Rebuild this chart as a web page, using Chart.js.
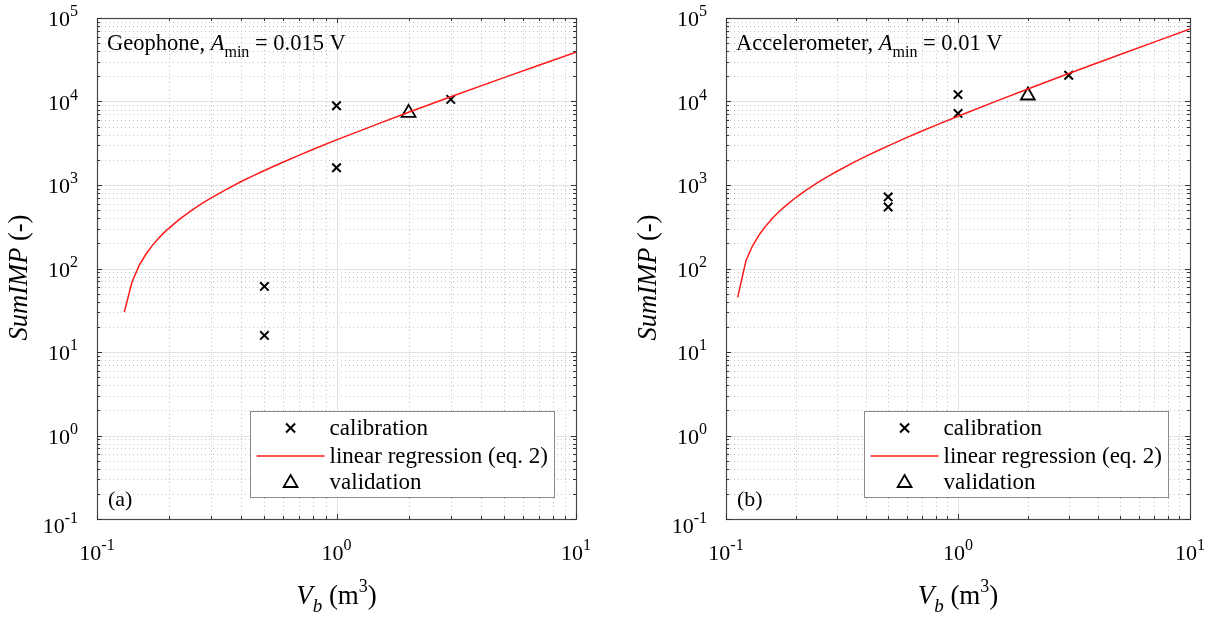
<!DOCTYPE html>
<html>
<head>
<meta charset="utf-8">
<script src="https://cdn.jsdelivr.net/npm/chart.js@4.4.0/dist/chart.umd.min.js"></script>
<style>
  body { margin: 0; background: #fff; width: 1230px; height: 619px; overflow: hidden; position: relative; }
  .panel { position: absolute; top: 0; width: 615px; height: 619px; }
</style>
</head>
<body>
<div class="panel" style="left:0"><canvas id="geoChart"></canvas></div>
<div class="panel" style="left:615px"><canvas id="accChart"></canvas></div>
<script>
// axis decades and tick exponents
const xDecades = [0.1, 1, 10];
const xTickExps = ['-1', '0', '1'];
const yDecades = [0.1, 1, 10, 100, 1000, 10000, 100000];
const yTickExps = ['-1', '0', '1', '2', '3', '4', '5'];
const minorSteps = [2, 3, 4, 5, 6, 7, 8, 9];

// (a) geophone
const geoCalX = [0.5, 0.5, 1, 1, 3];
const geoCalY = [61, 15.8, 8900, 1610, 10600];
const geoValX = [2];
const geoValY = [7300];
const geoFitX = [0.13, 0.14, 0.15, 0.16, 0.17, 0.18, 0.19, 0.2, 0.22, 0.25, 0.28, 0.3, 0.35, 0.4, 0.45, 0.5, 0.6, 0.7, 0.8, 1, 1.5, 2, 3, 5, 7, 10];
const geoFitY = [30, 69, 109, 148, 188, 227, 267, 305, 385, 505, 622, 700, 899, 1100, 1294, 1490, 1886, 2280, 2676, 3470, 5440, 7420, 11400, 19300, 27200, 39000];

// (b) accelerometer
const accCalX = [0.5, 0.5, 1, 1, 3];
const accCalY = [720, 545, 12100, 7200, 20600];
const accValX = [2];
const accValY = [11800];
const accFitX = [0.1123, 0.122, 0.13, 0.14, 0.15, 0.16, 0.17, 0.18, 0.2, 0.22, 0.25, 0.28, 0.3, 0.35, 0.4, 0.45, 0.5, 0.6, 0.7, 0.8, 1, 1.5, 2, 3, 5, 7, 10];
const accFitY = [45, 125, 186, 261, 335, 410, 484, 559, 708, 857, 1080, 1304, 1450, 1825, 2200, 2570, 2940, 3688, 4430, 5178, 6670, 10400, 14100, 21600, 36500, 51400, 73700];

const legendLabels = ['calibration', 'linear regression (eq. 2)', 'validation'];

const SERIF = '"Liberation Serif", "Times New Roman", serif';

function font(size, italic) {
    return (italic ? 'italic ' : '') + size + 'px ' + SERIF;
}

// draw a row of text pieces (for sub/superscripts), baseline at y
function drawRuns(ctx, runs, x, y, align) {
    ctx.textBaseline = 'alphabetic';
    ctx.textAlign = 'left';
    let total = 0;
    runs.forEach(r => {
        ctx.font = font(r.size, r.italic);
        r.w = ctx.measureText(r.t).width;
        total += r.w;
    });
    let cx = x;
    if (align === 'center') cx = x - total / 2;
    if (align === 'right') cx = x - total;
    runs.forEach(r => {
        ctx.font = font(r.size, r.italic);
        ctx.fillText(r.t, cx, y + (r.dy || 0));
        cx += r.w;
    });
    return total;
}

function powRuns(exp) {
    return [{t: '10', size: 22}, {t: exp, size: 16, dy: -10}];
}

function drawCross(ctx, x, y, r) {
    ctx.beginPath();
    ctx.moveTo(x - r, y - r); ctx.lineTo(x + r, y + r);
    ctx.moveTo(x - r, y + r); ctx.lineTo(x + r, y - r);
    ctx.stroke();
}

function drawTriangle(ctx, x, y, r) {
    ctx.beginPath();
    ctx.moveTo(x, y - r);
    ctx.lineTo(x + r * 0.866, y + r / 2);
    ctx.lineTo(x - r * 0.866, y + r / 2);
    ctx.closePath();
    ctx.stroke();
}

function gridValues(decades) {
    const minor = [];
    for (let i = 0; i < decades.length - 1; i++) {
        minorSteps.forEach(m => minor.push(decades[i] * m));
    }
    return minor;
}

function makeFramePlugin(cfg) {
    return {
        id: 'matlabFrame',
        beforeDatasetsDraw(chart) {
            const ctx = chart.ctx;
            const a = chart.chartArea;
            const xs = chart.scales.x, ys = chart.scales.y;
            ctx.save();
            ctx.lineWidth = 1;
            // minor dotted grid
            ctx.strokeStyle = '#c4c4c4';
            ctx.setLineDash([1, 3]);
            gridValues(xDecades).forEach(v => {
                const px = Math.round(xs.getPixelForValue(v)) + 0.5;
                ctx.beginPath(); ctx.moveTo(px, a.top); ctx.lineTo(px, a.bottom); ctx.stroke();
            });
            gridValues(yDecades).forEach(v => {
                const py = Math.round(ys.getPixelForValue(v)) + 0.5;
                ctx.beginPath(); ctx.moveTo(a.left, py); ctx.lineTo(a.right, py); ctx.stroke();
            });
            // major solid grid
            ctx.setLineDash([]);
            ctx.strokeStyle = '#e2e2e2';
            xDecades.forEach(v => {
                const px = Math.round(xs.getPixelForValue(v)) + 0.5;
                ctx.beginPath(); ctx.moveTo(px, a.top); ctx.lineTo(px, a.bottom); ctx.stroke();
            });
            yDecades.forEach(v => {
                const py = Math.round(ys.getPixelForValue(v)) + 0.5;
                ctx.beginPath(); ctx.moveTo(a.left, py); ctx.lineTo(a.right, py); ctx.stroke();
            });
            ctx.restore();
        },
        afterDatasetsDraw(chart) {
            const ctx = chart.ctx;
            const a = chart.chartArea;
            const xs = chart.scales.x, ys = chart.scales.y;
            ctx.save();

            // box
            ctx.strokeStyle = '#4a4a4a';
            ctx.lineWidth = 1.2;
            ctx.strokeRect(a.left + 0.5, a.top + 0.5, a.right - a.left, a.bottom - a.top);

            // inward ticks on all sides
            ctx.lineWidth = 1;
            ctx.strokeStyle = '#333';
            const tick = (v, len, horiz) => {
                if (horiz) {
                    const px = Math.round(xs.getPixelForValue(v)) + 0.5;
                    ctx.beginPath();
                    ctx.moveTo(px, a.bottom); ctx.lineTo(px, a.bottom - len);
                    ctx.moveTo(px, a.top); ctx.lineTo(px, a.top + len);
                    ctx.stroke();
                } else {
                    const py = Math.round(ys.getPixelForValue(v)) + 0.5;
                    ctx.beginPath();
                    ctx.moveTo(a.left, py); ctx.lineTo(a.left + len, py);
                    ctx.moveTo(a.right, py); ctx.lineTo(a.right - len, py);
                    ctx.stroke();
                }
            };
            gridValues(xDecades).forEach(v => tick(v, 3, true));
            xDecades.forEach(v => tick(v, 5, true));
            gridValues(yDecades).forEach(v => tick(v, 3, false));
            yDecades.forEach(v => tick(v, 5, false));

            // tick labels
            ctx.fillStyle = '#000';
            yDecades.forEach((v, i) => {
                const py = ys.getPixelForValue(v);
                const shift = i === 0 ? 6 : 0;
                drawRuns(ctx, powRuns(yTickExps[i]), a.left - 19, py + 8 + shift, 'right');
            });
            xDecades.forEach((v, i) => {
                const px = xs.getPixelForValue(v);
                drawRuns(ctx, powRuns(xTickExps[i]), px, a.bottom + 41, 'center');
            });

            // axis titles
            const cx = (a.left + a.right) / 2;
            drawRuns(ctx, [
                {t: 'V', size: 27, italic: true},
                {t: 'b', size: 19, italic: true, dy: 8},
                {t: ' (m', size: 27},
                {t: '3', size: 18, dy: -12},
                {t: ')', size: 27}
            ], cx, a.bottom + 85, 'center');

            ctx.save();
            ctx.translate(a.left - 70, (a.top + a.bottom) / 2 + 9);
            ctx.rotate(-Math.PI / 2);
            drawRuns(ctx, [
                {t: 'SumIMP', size: 26.5, italic: true},
                {t: ' (-)', size: 26.5}
            ], 0, 0, 'center');
            ctx.restore();

            // annotation
            drawRuns(ctx, [
                {t: cfg.sensor + ', ', size: 22.5},
                {t: 'A', size: 22.5, italic: true},
                {t: 'min', size: 16, dy: 7},
                {t: ' = ' + cfg.amin, size: 22.5}
            ], a.left + 10, a.top + 32, 'left');

            // panel label
            drawRuns(ctx, [{t: cfg.panel, size: 22}], a.left + 11, a.bottom - 13, 'left');

            // legend
            ctx.font = font(23, false);
            const textW = Math.max(...legendLabels.map(s => ctx.measureText(s).width));
            const boxR = a.right - 22;
            const boxW = 80 + textW + 6;
            const boxL = boxR - boxW;
            const boxB = a.bottom - 22;
            const boxT = boxB - 86;
            ctx.fillStyle = '#fff';
            ctx.fillRect(boxL, boxT, boxW, boxB - boxT);
            ctx.strokeStyle = '#8a8a8a';
            ctx.lineWidth = 1;
            ctx.strokeRect(Math.round(boxL) + 0.5, boxT + 0.5, Math.round(boxW), boxB - boxT);
            const rows = [boxT + 17, boxT + 45, boxT + 71];
            ctx.strokeStyle = '#000';
            ctx.lineWidth = 2;
            drawCross(ctx, boxL + 41, rows[0], 4.5);
            ctx.strokeStyle = '#ff1a1a';
            ctx.lineWidth = 1.5;
            ctx.beginPath(); ctx.moveTo(boxL + 7, rows[1]); ctx.lineTo(boxL + 75, rows[1]); ctx.stroke();
            ctx.strokeStyle = '#000';
            ctx.lineWidth = 1.8;
            drawTriangle(ctx, boxL + 41, rows[2] + 1, 8);
            ctx.fillStyle = '#000';
            legendLabels.forEach((s, i) => {
                drawRuns(ctx, [{t: s, size: 23}], boxL + 80, rows[i] + 7, 'left');
            });

            ctx.restore();
        }
    };
}

function toPoints(xs, ys) {
    return xs.map((x, i) => ({x: x, y: ys[i]}));
}

function renderPanel(canvasId, cfg) {
    const ctx = document.getElementById(canvasId).getContext('2d');
    new Chart(ctx, {
        type: 'scatter',
        data: {
            datasets: [
                {
                    label: legendLabels[1],
                    data: toPoints(cfg.fitX, cfg.fitY),
                    showLine: true,
                    borderColor: '#ff1a1a',
                    borderWidth: 1.5,
                    pointRadius: 0,
                    tension: 0
                },
                {
                    label: legendLabels[0],
                    data: toPoints(cfg.calX, cfg.calY),
                    pointStyle: 'crossRot',
                    pointRadius: 6,
                    borderColor: '#000',
                    borderWidth: 2
                },
                {
                    label: legendLabels[2],
                    data: toPoints(cfg.valX, cfg.valY),
                    pointStyle: 'triangle',
                    pointRadius: 8,
                    backgroundColor: 'rgba(0,0,0,0)',
                    borderColor: '#000',
                    borderWidth: 1.8
                }
            ]
        },
        options: {
            responsive: true,
            maintainAspectRatio: false,
            animation: false,
            events: [],
            layout: {
                padding: {left: 0, top: 18, right: cfg.padRight, bottom: 0}
            },
            plugins: {
                legend: {display: false},
                tooltip: {enabled: false}
            },
            scales: {
                x: {
                    type: 'logarithmic',
                    min: 0.1,
                    max: 10,
                    grid: {display: false},
                    border: {display: false},
                    ticks: {display: false},
                    afterFit: scale => { scale.height = 100; }
                },
                y: {
                    type: 'logarithmic',
                    min: 0.1,
                    max: 100000,
                    grid: {display: false},
                    border: {display: false},
                    ticks: {display: false},
                    afterFit: scale => { scale.width = cfg.areaLeft; }
                }
            }
        },
        plugins: [makeFramePlugin(cfg)]
    });
}

renderPanel('geoChart', {
    sensor: 'Geophone', amin: '0.015 V', panel: '(a)',
    calX: geoCalX, calY: geoCalY, valX: geoValX, valY: geoValY,
    fitX: geoFitX, fitY: geoFitY,
    areaLeft: 97, padRight: 39
});

renderPanel('accChart', {
    sensor: 'Accelerometer', amin: '0.01 V', panel: '(b)',
    calX: accCalX, calY: accCalY, valX: accValX, valY: accValY,
    fitX: accFitX, fitY: accFitY,
    areaLeft: 111, padRight: 40
});
</script>
</body>
</html>
